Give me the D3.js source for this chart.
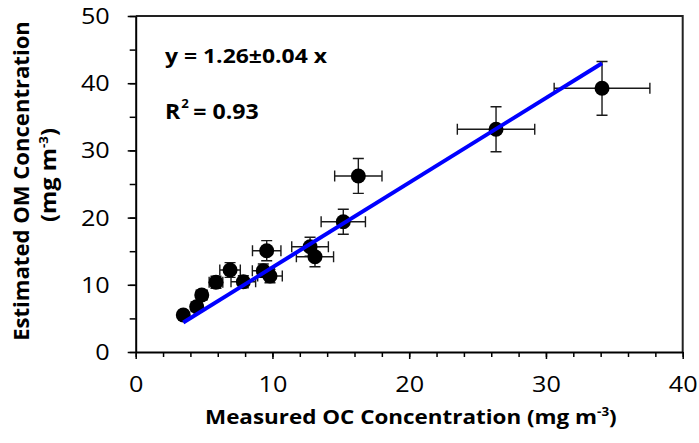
<!DOCTYPE html>
<html>
<head>
<meta charset="utf-8">
<script src="https://cdn.jsdelivr.net/npm/d3@7"></script>
<style>
  body { margin: 0; background: #fff; }
  text { font-family: "Open Sans", sans-serif; fill: #000; }
</style>
</head>
<body>
<svg id="chart" width="699" height="443"></svg>
<script>
// measured OC (x) vs estimated OM (y), with +/- error on both
var ocMeasured = [3.48, 4.46, 4.83, 5.87, 6.90, 7.87, 9.33, 9.82, 9.58, 12.75, 13.11, 15.18, 16.28, 26.35, 34.10];
var omEstimated = [5.50, 6.74, 8.48, 10.37, 12.20, 10.46, 12.10, 11.30, 15.07, 15.67, 14.18, 19.39, 26.20, 33.14, 39.24];
var ocError = [0.30, 0.40, 0.40, 0.50, 0.75, 0.90, 0.80, 0.90, 1.04, 1.34, 1.36, 1.62, 1.73, 2.83, 3.50];
var omError = [0.50, 0.60, 0.70, 0.90, 1.10, 0.90, 1.00, 1.00, 1.50, 1.40, 1.50, 1.86, 2.60, 3.35, 4.00];
var slope = 1.26;

var xMajor = [0, 10, 20, 30, 40];
var xMinor = d3.range(0, 41, 2);
var yMajor = [0, 10, 20, 30, 40, 50];
var yMinor = d3.range(0, 51, 5);

var svg = d3.select('#chart');
var x = d3.scaleLinear().domain([0, 40]).range([135.7, 682.7]);
var y = d3.scaleLinear().domain([0, 50]).range([352, 16]);

// squeeze / stretch a text so it spans a given length
function fit(sel, len) {
    var w = sel.node().getComputedTextLength();
    return len / w;
}

// frame (top + right)
svg.append('path')
    .attr('d', 'M' + x(0) + ',' + y(50) + 'H' + x(40) + 'V' + y(0))
    .attr('fill', 'none').attr('stroke', '#222').attr('stroke-width', 2);

// minor ticks
svg.append('g').attr('transform', 'translate(0,' + y(0) + ')')
    .call(d3.axisBottom(x).tickValues(xMinor).tickSize(5).tickFormat(''))
    .call(g => g.select('.domain').remove())
    .selectAll('line').attr('stroke', '#000').attr('stroke-width', 1.5);
svg.append('g').attr('transform', 'translate(' + x(0) + ',0)')
    .call(d3.axisLeft(y).tickValues(yMinor).tickSize(6).tickFormat(''))
    .call(g => g.select('.domain').remove())
    .selectAll('line').attr('stroke', '#000').attr('stroke-width', 1.5);

// major ticks + labels
var xAxis = svg.append('g').attr('transform', 'translate(0,' + y(0) + ')')
    .call(d3.axisBottom(x).tickValues(xMajor).tickSize(7).tickSizeOuter(0).tickPadding(20));
var yAxis = svg.append('g').attr('transform', 'translate(' + x(0) + ',0)')
    .call(d3.axisLeft(y).tickValues(yMajor).tickSize(8).tickSizeOuter(0).tickPadding(18));

[xAxis, yAxis].forEach(function(g) {
    g.select('.domain').attr('stroke', '#000').attr('stroke-width', 2);
    g.selectAll('line').attr('stroke', '#000').attr('stroke-width', 1.5);
    g.selectAll('text').attr('font-size', 21).attr('font-family', '"Open Sans", sans-serif').attr('fill', '#000');
});
xAxis.selectAll('text').attr('dy', null).attr('y', 40);
yAxis.selectAll('text').attr('dy', null).attr('y', 7.5);
[xAxis, yAxis].forEach(function(g) {
    g.selectAll('text').each(function() {
        var t = d3.select(this);
        var k = 1.2;
        var xx = +t.attr('x') || 0;
        t.attr('transform', 'translate(' + xx + ',0) scale(' + k + ',1) translate(' + (-xx) + ',0)');
    });
});

// error bars
var pts = ocMeasured.map(function(v, i) {
    return { x: v, y: omEstimated[i], ex: ocError[i], ey: omError[i] };
});
var cap = 5.5;
var bars = svg.append('g').attr('stroke', '#1a1a1a').attr('stroke-width', 1.4).attr('fill', 'none');
bars.selectAll('path').data(pts).enter().append('path')
    .attr('d', function(d) {
        var cx = x(d.x), cy = y(d.y);
        var x0 = x(d.x - d.ex), x1 = x(d.x + d.ex);
        var y0 = y(d.y - d.ey), y1 = y(d.y + d.ey);
        return 'M' + x0 + ',' + cy + 'H' + x1 +
            'M' + x0 + ',' + (cy - cap) + 'V' + (cy + cap) +
            'M' + x1 + ',' + (cy - cap) + 'V' + (cy + cap) +
            'M' + cx + ',' + y0 + 'V' + y1 +
            'M' + (cx - cap) + ',' + y0 + 'H' + (cx + cap) +
            'M' + (cx - cap) + ',' + y1 + 'H' + (cx + cap);
    });

// points
svg.append('g').selectAll('circle').data(pts).enter().append('circle')
    .attr('cx', d => x(d.x)).attr('cy', d => y(d.y)).attr('r', 7.5).attr('fill', '#000');

// fit line y = 1.26 x over data range
var xLo = d3.min(ocMeasured), xHi = d3.max(ocMeasured);
svg.append('line')
    .attr('x1', x(xLo)).attr('y1', y(slope * xLo))
    .attr('x2', x(xHi)).attr('y2', y(slope * xHi))
    .attr('stroke', '#0000ff').attr('stroke-width', 4);

// equation text
var eq = svg.append('text').attr('font-weight', 'bold').attr('font-size', 20)
    .attr('x', 0).attr('y', 0).text('y = 1.26\u00b10.04 x');
eq.attr('transform', 'translate(165,63) scale(' + fit(eq, 162) + ',1)');

var r2 = svg.append('text').attr('font-weight', 'bold').attr('font-size', 21)
    .attr('transform', 'translate(165,119) scale(1.1,1)');
r2.append('tspan').text('R');
r2.append('tspan').attr('font-size', 12).attr('dy', -11).attr('dx', 1).text('2');
r2.append('tspan').attr('dy', 11).attr('dx', 4).text('= 0.93');

// x title
var xt = svg.append('text').attr('font-weight', 'bold').attr('font-size', 20);
xt.append('tspan').text('Measured OC Concentration (mg m');
xt.append('tspan').attr('font-size', 12).attr('dy', -8).text('-3');
xt.append('tspan').attr('dy', 8).text(')');
var xw = xt.node().getBBox().width;
xt.attr('transform', 'translate(205,424) scale(' + (412 / xw) + ',1)');

// y title, two lines
var yt1 = svg.append('text').attr('font-weight', 'bold').attr('font-size', 21.5)
    .attr('text-anchor', 'middle').text('Estimated OM Concentration');
yt1.attr('transform', 'translate(28.5,181) rotate(-90) scale(' + fit(yt1, 320) + ',1)');

var yt2 = svg.append('text').attr('font-weight', 'bold').attr('font-size', 21.5)
    .attr('text-anchor', 'middle');
yt2.append('tspan').text('(mg m');
yt2.append('tspan').attr('font-size', 12).attr('dy', -8).text('-3');
yt2.append('tspan').attr('dy', 8).text(')');
var yw = yt2.node().getBBox().width;
yt2.attr('transform', 'translate(56,175) rotate(-90) scale(' + (94 / yw) + ',1)');
</script>
</body>
</html>
